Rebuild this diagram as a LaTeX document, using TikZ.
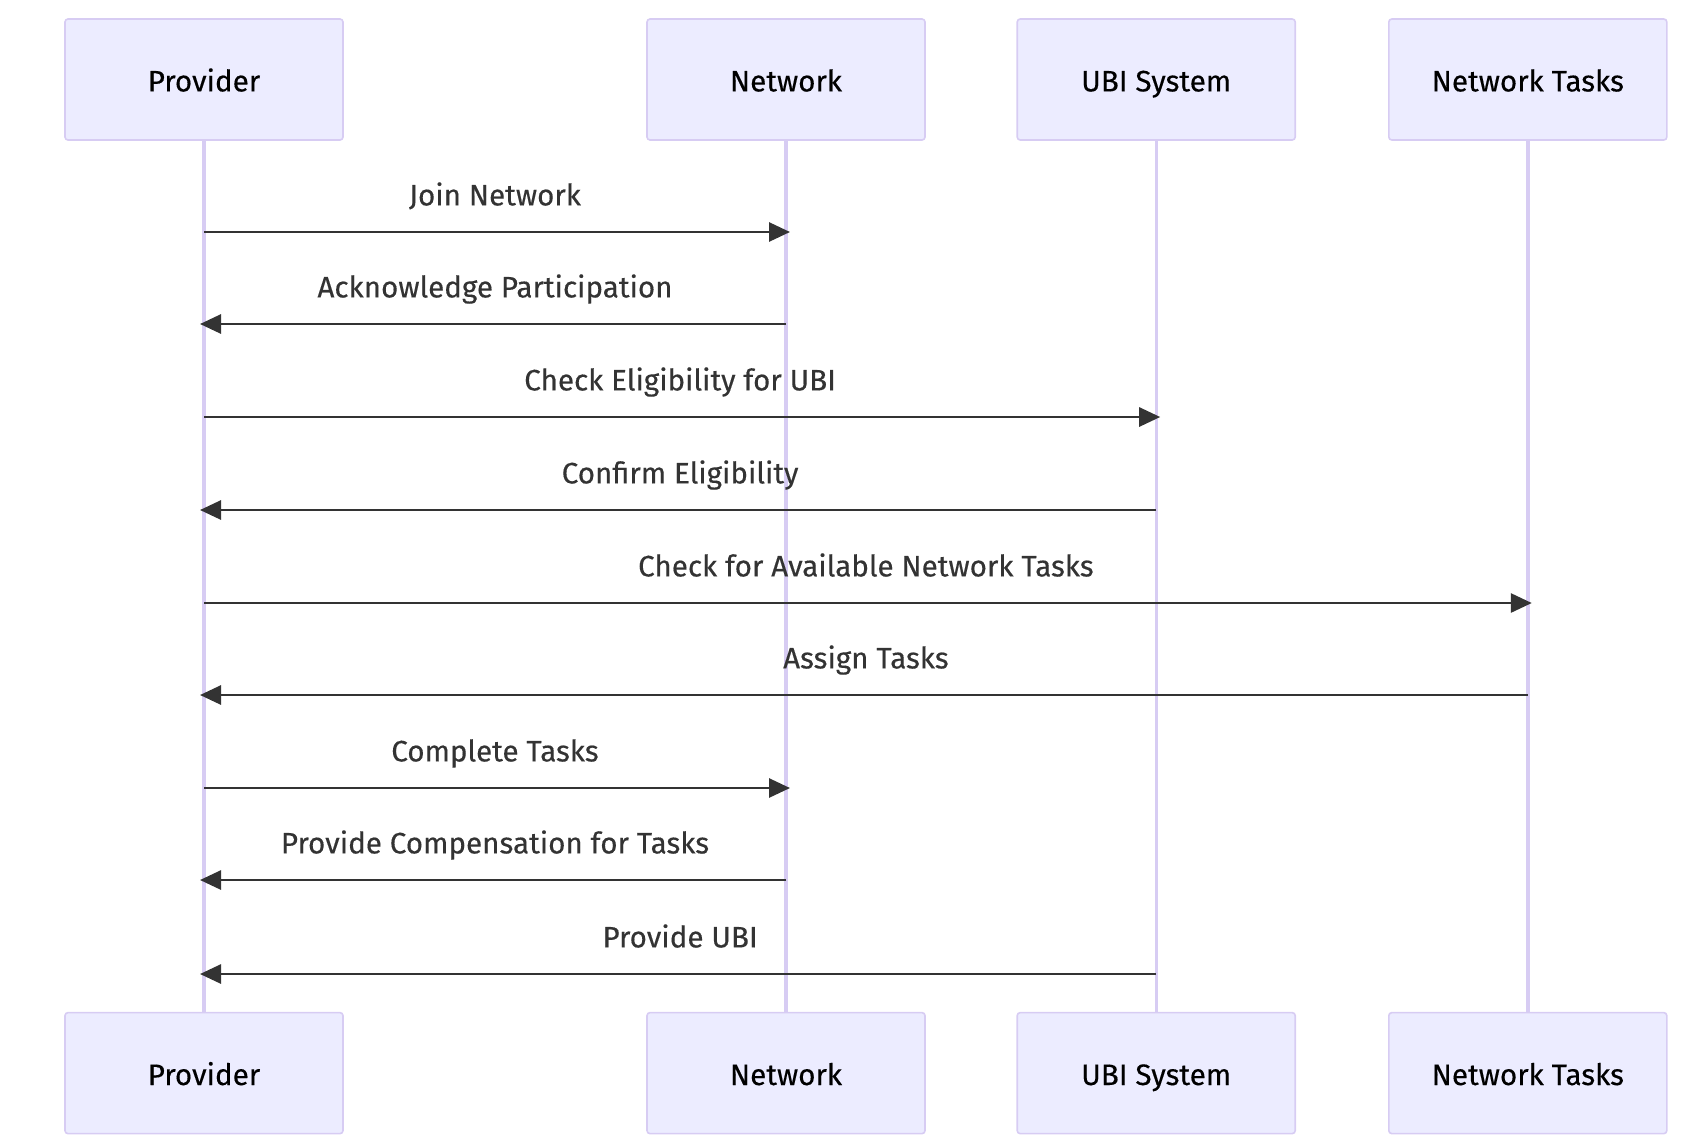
\documentclass[tikz,border=0pt]{standalone}
\usepackage{fontspec}
\setmainfont{Fira Sans}[FakeBold=0.3]
\usetikzlibrary{arrows.meta,positioning}
\definecolor{actfill}{HTML}{ECECFF}
\definecolor{actline}{HTML}{D7CCF3}
\definecolor{msgcol}{HTML}{333333}

\begin{document}
\begin{tikzpicture}[x=0.5pt,y=-0.5pt,
    actor/.style={rectangle,rounded corners=1.5pt,draw=actline,line width=0.8pt,fill=actfill,minimum width=139pt,minimum height=60.5pt,text height=11.9pt,text depth=0pt,font=\fontsize{14.8}{17}\selectfont},
    life/.style={draw=actline,line width=1.7pt},
    msg/.style={draw=msgcol,line width=1.4pt,-{Triangle[length=10.5pt,width=9.5pt]},shorten >=-2pt},
    lbl/.style={anchor=base,yshift=13.3pt,text=msgcol,font=\fontsize{14.8}{17}\selectfont}]
    \useasboundingbox (0,0) rectangle (1700,1147);
    % actors, top row
    \node[actor] (pT) at (204,79.5) {Provider};
    \node[actor,right=151.2pt of pT] (nT) {Network};
    \node[actor,right=45.3pt of nT] (uT) {UBI System};
    \node[actor,right=46pt of uT] (tT) {Network Tasks};
    % actors, bottom row
    \node[actor,below=435.5pt of pT] (pB) {Provider};
    \node[actor,below=435.5pt of nT] (nB) {Network};
    \node[actor,below=435.5pt of uT] (uB) {UBI System};
    \node[actor,below=435.5pt of tT] (tB) {Network Tasks};
    % lifelines
    \foreach \n in {p,n,u,t}
        \draw[life] (\n T.south) -- (\n B.north);
    % messages
    \foreach \yy/\a/\b/\txt in {
        232/pT/nT/Join Network,
        324/nT/pT/Acknowledge Participation,
        417/pT/uT/Check Eligibility for UBI,
        510/uT/pT/Confirm Eligibility,
        603/pT/tT/Check for Available Network Tasks,
        695/tT/pT/Assign Tasks,
        788/pT/nT/Complete Tasks,
        880/nT/pT/Provide Compensation for Tasks,
        974/uT/pT/Provide UBI}
        \draw[msg] (\a |- 0,\yy) -- node[lbl] {\txt} (\b |- 0,\yy);
\end{tikzpicture}
\end{document}
